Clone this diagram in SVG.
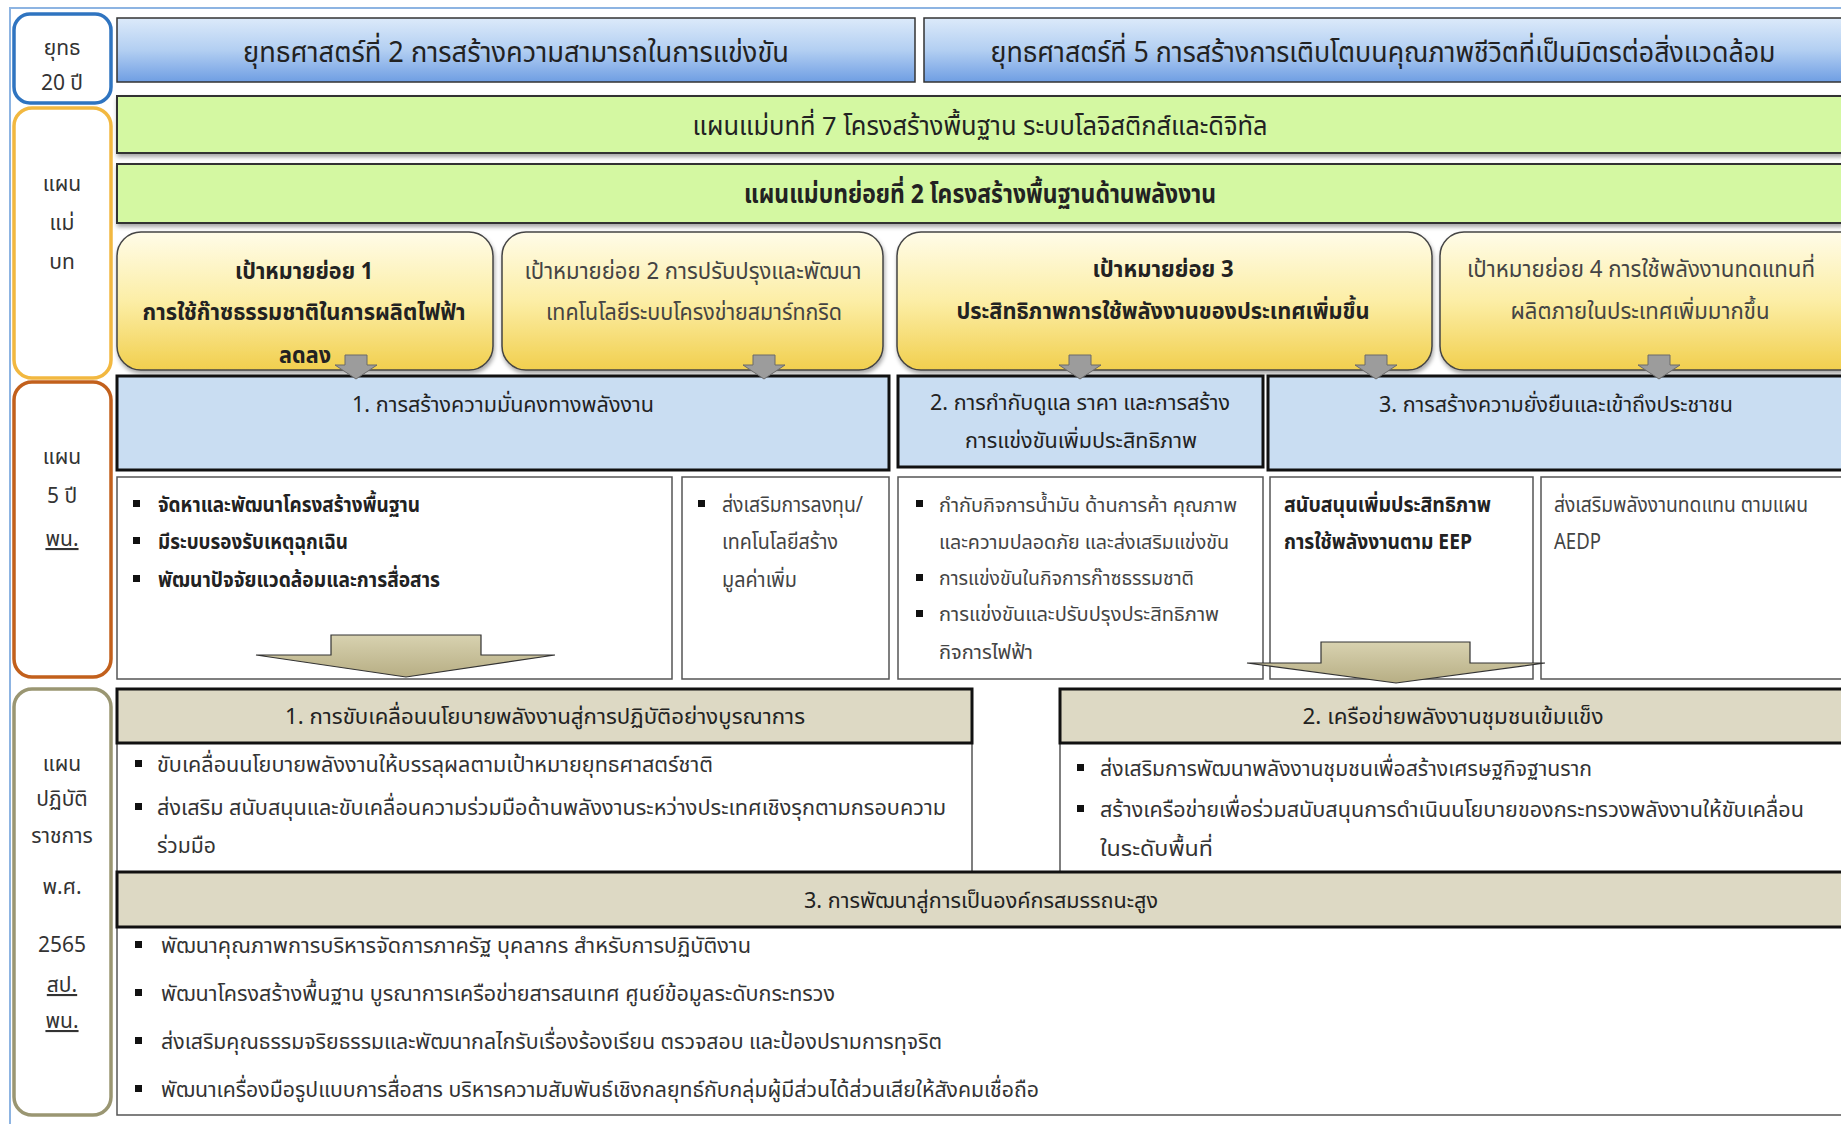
<svg xmlns="http://www.w3.org/2000/svg" width="1841" height="1124" viewBox="0 0 1841 1124">
<defs>
  <linearGradient id="gBlue" x1="0" y1="0" x2="0" y2="1">
    <stop offset="0" stop-color="#DCEAFA"/><stop offset="0.5" stop-color="#B3CFF2"/><stop offset="1" stop-color="#6F9EE3"/>
  </linearGradient>
  <linearGradient id="gYel" x1="0" y1="0" x2="0" y2="1">
    <stop offset="0" stop-color="#FFFCE8"/><stop offset="0.5" stop-color="#FCEEA6"/><stop offset="1" stop-color="#F1CF4E"/>
  </linearGradient>
  <linearGradient id="gTan" x1="0" y1="0" x2="0" y2="1">
    <stop offset="0" stop-color="#D8D2B0"/><stop offset="1" stop-color="#B7AE84"/>
  </linearGradient>
  <filter id="sh" x="-5%" y="-20%" width="110%" height="150%">
    <feDropShadow dx="1" dy="3" stdDeviation="2" flood-color="#000" flood-opacity="0.35"/>
  </filter>
</defs>
<style>
  text { font-family: "Noto Sans Thai", "Noto Sans", "DejaVu Sans", sans-serif; fill: #222; }
  .c { text-anchor: middle; }
  .b { font-weight: bold; }
  .lab { font-size: 21px; fill: #333; }
  .t1 { font-size: 29px; }
  .tg { font-size: 26px; }
  .ty { font-size: 23px; }
  .tb { font-size: 22px; }
  .tx { font-size: 21px; }
  .ts { font-size: 20px; }
  .lbl { fill: #fff; stroke-width: 3.5; }
  .blue1 { fill: url(#gBlue); stroke: #333; stroke-width: 1.5; }
  .green { fill: #D4F8A2; stroke: #333; stroke-width: 2; }
  .yel { fill: url(#gYel); stroke: #444; stroke-width: 1.5; }
  .lb { fill: #C9DDF2; stroke: #111; stroke-width: 3; }
  .wb { fill: #fff; stroke: #555; stroke-width: 1.5; }
  .tan { fill: #DDD9C4; stroke: #111; stroke-width: 3; }
  .ga { fill: #9C9C9C; stroke: #6A6A6A; stroke-width: 1; }
  .ta { fill: url(#gTan); stroke: #333; stroke-width: 1.2; }
  .sq { fill: #111; }
</style>

<rect x="0" y="0" width="1841" height="1124" fill="#fff"/>
<!-- outer frame lines -->
<path d="M10 1124 V8 H1841" fill="none" stroke="#8DB4E2" stroke-width="2"/>

<!-- left labels -->
<g id="lbl-strategy">
  <rect class="lbl" x="14" y="14" width="97" height="89" rx="16" stroke="#2F74C0"/>
  <text class="lab c" x="62" y="55">ยุทธ</text>
  <text class="lab c" x="62" y="90">20 ปี</text>
</g>
<g id="lbl-masterplan">
  <rect class="lbl" x="14" y="108" width="97" height="270" rx="18" stroke="#F2B840"/>
  <text class="lab c" x="62" y="191">แผน</text>
  <text class="lab c" x="62" y="230">แม่</text>
  <text class="lab c" x="62" y="269">บท</text>
</g>
<g id="lbl-5yr">
  <rect class="lbl" x="14" y="382" width="97" height="295" rx="18" stroke="#C2601C"/>
  <text class="lab c" x="62" y="464">แผน</text>
  <text class="lab c" x="62" y="503">5 ปี</text>
  <text class="lab c" x="62" y="546" text-decoration="underline">พน.</text>
</g>
<g id="lbl-action">
  <rect class="lbl" x="14" y="689" width="97" height="426" rx="18" stroke="#9A9672"/>
  <text class="lab c" x="62" y="771">แผน</text>
  <text class="lab c" x="62" y="806">ปฏิบัติ</text>
  <text class="lab c" x="62" y="843">ราชการ</text>
  <text class="lab c" x="62" y="894">พ.ศ.</text>
  <text class="lab c" x="62" y="952">2565</text>
  <text class="lab c" x="62" y="992" text-decoration="underline">สป.</text>
  <text class="lab c" x="62" y="1028" text-decoration="underline">พน.</text>
</g>

<!-- row 1 strategies -->
<g id="strategy-2">
  <rect class="blue1" x="117" y="18" width="798" height="64"/>
  <text class="t1 c" x="516" y="62" textLength="546" lengthAdjust="spacingAndGlyphs">ยุทธศาสตร์ที่ 2 การสร้างความสามารถในการแข่งขัน</text>
</g>
<g id="strategy-5">
  <rect class="blue1" x="924" y="18" width="918" height="64"/>
  <text class="t1 c" x="1383" y="62" textLength="785" lengthAdjust="spacingAndGlyphs">ยุทธศาสตร์ที่ 5 การสร้างการเติบโตบนคุณภาพชีวิตที่เป็นมิตรต่อสิ่งแวดล้อม</text>
</g>

<!-- green bars -->
<g id="masterplan-7">
  <rect class="green" x="117" y="96" width="1725" height="57" filter="url(#sh)"/>
  <text class="tg c" x="980" y="135" textLength="575" lengthAdjust="spacingAndGlyphs">แผนแม่บทที่ 7   โครงสร้างพื้นฐาน ระบบโลจิสติกส์และดิจิทัล</text>
</g>
<g id="submasterplan-2">
  <rect class="green" x="117" y="164" width="1725" height="59" filter="url(#sh)"/>
  <text class="tg c b" x="980" y="203" textLength="472" lengthAdjust="spacingAndGlyphs">แผนแม่บทย่อยที่ 2 โครงสร้างพื้นฐานด้านพลังงาน</text>
</g>

<!-- yellow sub-goals -->
<g id="goal-1">
  <rect class="yel" x="117" y="232" width="376" height="138" rx="24" filter="url(#sh)"/>
  <text class="ty c b" x="304" y="279" textLength="138" lengthAdjust="spacingAndGlyphs">เป้าหมายย่อย 1</text>
  <text class="ty c b" x="304" y="320" textLength="323" lengthAdjust="spacingAndGlyphs">การใช้ก๊าซธรรมชาติในการผลิตไฟฟ้า</text>
  <text class="ty c b" x="305" y="363" textLength="52" lengthAdjust="spacingAndGlyphs">ลดลง</text>
</g>
<g id="goal-2">
  <rect class="yel" x="502" y="232" width="381" height="138" rx="24" filter="url(#sh)"/>
  <text class="ty c" x="693" y="279" textLength="337" lengthAdjust="spacingAndGlyphs" style="fill:#444">เป้าหมายย่อย 2 การปรับปรุงและพัฒนา</text>
  <text class="ty c" x="694" y="320" textLength="296" lengthAdjust="spacingAndGlyphs" style="fill:#444">เทคโนโลยีระบบโครงข่ายสมาร์ทกริด</text>
</g>
<g id="goal-3">
  <rect class="yel" x="897" y="232" width="535" height="138" rx="24" filter="url(#sh)"/>
  <text class="ty c b" x="1163" y="277" textLength="141" lengthAdjust="spacingAndGlyphs">เป้าหมายย่อย 3</text>
  <text class="ty c b" x="1163" y="319" textLength="413" lengthAdjust="spacingAndGlyphs">ประสิทธิภาพการใช้พลังงานของประเทศเพิ่มขึ้น</text>
</g>
<g id="goal-4">
  <rect class="yel" x="1440" y="232" width="430" height="138" rx="24" filter="url(#sh)"/>
  <text class="ty c" x="1641" y="277" textLength="348" lengthAdjust="spacingAndGlyphs" style="fill:#444">เป้าหมายย่อย 4 การใช้พลังงานทดแทนที่</text>
  <text class="ty c" x="1640" y="319" textLength="259" lengthAdjust="spacingAndGlyphs" style="fill:#444">ผลิตภายในประเทศเพิ่มมากขึ้น</text>
</g>

<!-- row 5 blue -->
<g id="plan5-1">
  <rect class="lb" x="117" y="376" width="772" height="94"/>
  <text class="tb c" x="503" y="412" textLength="302" lengthAdjust="spacingAndGlyphs">1.  การสร้างความมั่นคงทางพลังงาน</text>
</g>
<g id="plan5-2">
  <rect class="lb" x="898" y="376" width="365" height="91"/>
  <text class="tb c" x="1080" y="410" textLength="300" lengthAdjust="spacingAndGlyphs">2. การกำกับดูแล ราคา และการสร้าง</text>
  <text class="tb c" x="1081" y="448" textLength="232" lengthAdjust="spacingAndGlyphs">การแข่งขันเพิ่มประสิทธิภาพ</text>
</g>
<g id="plan5-3">
  <rect class="lb" x="1268" y="376" width="590" height="94"/>
  <text class="tb c" x="1556" y="412" textLength="354" lengthAdjust="spacingAndGlyphs">3. การสร้างความยั่งยืนและเข้าถึงประชาชน</text>
</g>

<!-- row 6 white detail boxes -->
<g id="detail-1">
  <rect class="wb" x="117" y="477" width="555" height="202"/>
  <rect class="sq" x="133" y="500" width="7" height="7"/>
  <text class="tx b" x="158" y="512" textLength="262" lengthAdjust="spacingAndGlyphs">จัดหาและพัฒนาโครงสร้างพื้นฐาน</text>
  <rect class="sq" x="133" y="537" width="7" height="7"/>
  <text class="tx b" x="158" y="549" textLength="190" lengthAdjust="spacingAndGlyphs">มีระบบรองรับเหตุฉุกเฉิน</text>
  <rect class="sq" x="133" y="575" width="7" height="7"/>
  <text class="tx b" x="158" y="587" textLength="282" lengthAdjust="spacingAndGlyphs">พัฒนาปัจจัยแวดล้อมและการสื่อสาร</text>
</g>
<g id="detail-2">
  <rect class="wb" x="682" y="477" width="207" height="202"/>
  <rect class="sq" x="698" y="500" width="7" height="7"/>
  <text class="tx" x="722" y="512" textLength="141" lengthAdjust="spacingAndGlyphs" style="fill:#444">ส่งเสริมการลงทุน/</text>
  <text class="tx" x="722" y="549" textLength="116" lengthAdjust="spacingAndGlyphs" style="fill:#444">เทคโนโลยีสร้าง</text>
  <text class="tx" x="722" y="587" textLength="75" lengthAdjust="spacingAndGlyphs" style="fill:#444">มูลค่าเพิ่ม</text>
</g>
<g id="detail-3">
  <rect class="wb" x="898" y="477" width="365" height="202"/>
  <rect class="sq" x="916" y="500" width="7" height="7"/>
  <text class="ts" x="939" y="512" textLength="298" lengthAdjust="spacingAndGlyphs" style="fill:#444">กำกับกิจการน้ำมัน ด้านการค้า คุณภาพ</text>
  <text class="ts" x="939" y="549" textLength="290" lengthAdjust="spacingAndGlyphs" style="fill:#444">และความปลอดภัย และส่งเสริมแข่งขัน</text>
  <rect class="sq" x="916" y="574" width="7" height="7"/>
  <text class="ts" x="939" y="585" textLength="255" lengthAdjust="spacingAndGlyphs" style="fill:#444">การแข่งขันในกิจการก๊าซธรรมชาติ</text>
  <rect class="sq" x="916" y="610" width="7" height="7"/>
  <text class="ts" x="939" y="621" textLength="280" lengthAdjust="spacingAndGlyphs" style="fill:#444">การแข่งขันและปรับปรุงประสิทธิภาพ</text>
  <text class="ts" x="939" y="659" textLength="94" lengthAdjust="spacingAndGlyphs" style="fill:#444">กิจการไฟฟ้า</text>
</g>
<g id="detail-4">
  <rect class="wb" x="1270" y="477" width="263" height="202"/>
  <text class="tx b" x="1284" y="512" textLength="207" lengthAdjust="spacingAndGlyphs">สนับสนุนเพิ่มประสิทธิภาพ</text>
  <text class="tx b" x="1284" y="549" textLength="188" lengthAdjust="spacingAndGlyphs">การใช้พลังงานตาม EEP</text>
</g>
<g id="detail-5">
  <rect class="wb" x="1541" y="477" width="320" height="202"/>
  <text class="tx" x="1554" y="512" textLength="254" lengthAdjust="spacingAndGlyphs" style="fill:#444">ส่งเสริมพลังงานทดแทน ตามแผน</text>
  <text class="tx" x="1554" y="549" textLength="47" lengthAdjust="spacingAndGlyphs" style="fill:#444">AEDP</text>
</g>

<!-- row 7 action plans -->
<g id="action-1">
  <rect class="wb" x="117" y="743" width="855" height="129"/>
  <rect class="tan" x="117" y="689" width="855" height="54"/>
  <text class="tb c" x="545" y="724" textLength="520" lengthAdjust="spacingAndGlyphs">1. การขับเคลื่อนนโยบายพลังงานสู่การปฏิบัติอย่างบูรณาการ</text>
  <rect class="sq" x="135" y="760" width="7" height="7"/>
  <text class="tb" x="157" y="772" textLength="556" lengthAdjust="spacingAndGlyphs" style="fill:#333">ขับเคลื่อนนโยบายพลังงานให้บรรลุผลตามเป้าหมายยุทธศาสตร์ชาติ</text>
  <rect class="sq" x="135" y="803" width="7" height="7"/>
  <text class="tb" x="157" y="815" textLength="789" lengthAdjust="spacingAndGlyphs" style="fill:#333">ส่งเสริม สนับสนุนและขับเคลื่อนความร่วมมือด้านพลังงานระหว่างประเทศเชิงรุกตามกรอบความ</text>
  <text class="tb" x="157" y="853" textLength="59" lengthAdjust="spacingAndGlyphs" style="fill:#333">ร่วมมือ</text>
</g>
<g id="action-2">
  <rect class="wb" x="1060" y="743" width="800" height="129"/>
  <rect class="tan" x="1060" y="689" width="800" height="54"/>
  <text class="tb c" x="1453" y="724" textLength="301" lengthAdjust="spacingAndGlyphs">2. เครือข่ายพลังงานชุมชนเข้มแข็ง</text>
  <rect class="sq" x="1077" y="764" width="7" height="7"/>
  <text class="tb" x="1100" y="776" textLength="492" lengthAdjust="spacingAndGlyphs" style="fill:#333">ส่งเสริมการพัฒนาพลังงานชุมชนเพื่อสร้างเศรษฐกิจฐานราก</text>
  <rect class="sq" x="1077" y="805" width="7" height="7"/>
  <text class="tb" x="1100" y="817" textLength="704" lengthAdjust="spacingAndGlyphs" style="fill:#333">สร้างเครือข่ายเพื่อร่วมสนับสนุนการดำเนินนโยบายของกระทรวงพลังงานให้ขับเคลื่อน</text>
  <text class="tb" x="1100" y="856" textLength="113" lengthAdjust="spacingAndGlyphs" style="fill:#333">ในระดับพื้นที่</text>
</g>
<g id="action-3">
  <rect class="wb" x="117" y="927" width="1740" height="188"/>
  <rect class="tan" x="117" y="872" width="1740" height="55"/>
  <text class="tb c" x="981" y="908" textLength="354" lengthAdjust="spacingAndGlyphs">3. การพัฒนาสู่การเป็นองค์กรสมรรถนะสูง</text>
  <rect class="sq" x="135" y="941" width="7" height="7"/>
  <text class="tb" x="161" y="953" textLength="590" lengthAdjust="spacingAndGlyphs" style="fill:#333">พัฒนาคุณภาพการบริหารจัดการภาครัฐ บุคลากร สำหรับการปฏิบัติงาน</text>
  <rect class="sq" x="135" y="989" width="7" height="7"/>
  <text class="tb" x="161" y="1001" textLength="674" lengthAdjust="spacingAndGlyphs" style="fill:#333">พัฒนาโครงสร้างพื้นฐาน บูรณาการเครือข่ายสารสนเทศ ศูนย์ข้อมูลระดับกระทรวง</text>
  <rect class="sq" x="135" y="1037" width="7" height="7"/>
  <text class="tb" x="161" y="1049" textLength="781" lengthAdjust="spacingAndGlyphs" style="fill:#333">ส่งเสริมคุณธรรมจริยธรรมและพัฒนากลไกรับเรื่องร้องเรียน ตรวจสอบ และป้องปรามการทุจริต</text>
  <rect class="sq" x="135" y="1085" width="7" height="7"/>
  <text class="tb" x="161" y="1097" textLength="878" lengthAdjust="spacingAndGlyphs" style="fill:#333">พัฒนาเครื่องมือรูปแบบการสื่อสาร บริหารความสัมพันธ์เชิงกลยุทธ์กับกลุ่มผู้มีส่วนได้ส่วนเสียให้สังคมเชื่อถือ</text>
</g>

<!-- connectors -->
<g id="connectors">
  <path class="ga" d="M345 355 H367 V365 H377 L356 379 L335 365 H345 Z"/>
  <path class="ga" d="M753 355 H775 V365 H785 L764 379 L743 365 H753 Z"/>
  <path class="ga" d="M1069 355 H1091 V365 H1101 L1080 379 L1059 365 H1069 Z"/>
  <path class="ga" d="M1365 355 H1387 V365 H1397 L1376 379 L1355 365 H1365 Z"/>
  <path class="ga" d="M1648 355 H1670 V365 H1680 L1659 379 L1638 365 H1648 Z"/>
  <path class="ta" d="M331 635 H481 V655 H555 L406 677 L256 655 H331 Z"/>
  <path class="ta" d="M1321 642 H1470 V663 H1545 L1396 683 L1247 663 H1321 Z"/>
</g>
</svg>
